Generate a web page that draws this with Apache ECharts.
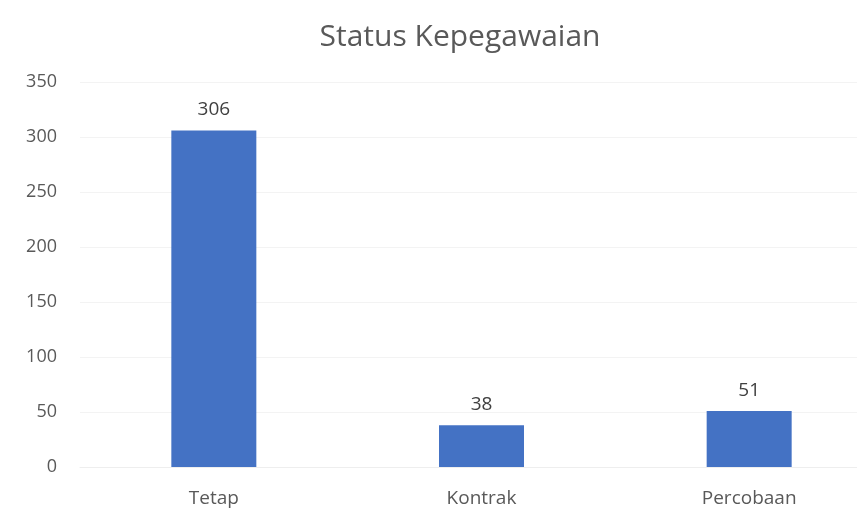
<!DOCTYPE html>
<html>
<head>
<meta charset="utf-8">
<script src="https://cdn.jsdelivr.net/npm/echarts@6/dist/echarts.min.js"></script>
<style>
  html, body { margin: 0; padding: 0; background: #fff; }
  #chart { width: 857px; height: 522px; }
</style>
</head>
<body>
<div id="chart"></div>
<script>
// data
var categories = ['Tetap', 'Kontrak', 'Percobaan'];
var values = [306, 38, 51];
var yTicks = { min: 0, max: 350, interval: 50 };

var chart = echarts.init(document.getElementById('chart'));
var font = '"Open Sans", "Noto Sans", sans-serif';

chart.setOption({
  animation: false,
  backgroundColor: '#fff',
  title: {
    text: 'Status Kepegawaian',
    left: 455, top: 17,
    textAlign: 'center',
    textStyle: { fontFamily: font, fontSize: 30, fontWeight: 'normal', color: '#595959' }
  },
  // plot runs past the right edge like in the cropped original
  grid: { left: 80, top: 82, width: 803, height: 385, outerBoundsMode: 'none', containLabel: false },
  xAxis: {
    type: 'category',
    data: categories,
    axisLine: { show: true, lineStyle: { color: '#eeeeee' } },
    axisTick: { show: false },
    axisLabel: { margin: 22, fontFamily: font, fontSize: 19, color: '#595959' }
  },
  yAxis: {
    type: 'value',
    min: yTicks.min, max: yTicks.max, interval: yTicks.interval,
    axisLine: { show: false },
    axisTick: { show: false },
    splitLine: { lineStyle: { color: '#f3f3f3' } },
    axisLabel: { margin: 23, fontFamily: font, fontSize: 18, color: '#595959' }
  },
  series: [{
    type: 'bar',
    data: values,
    barWidth: 85,
    itemStyle: { color: '#4472C4' },
    label: {
      show: true, position: 'top', distance: 11,
      fontFamily: font, fontSize: 19, color: '#404040'
    }
  }]
});
</script>
</body>
</html>
